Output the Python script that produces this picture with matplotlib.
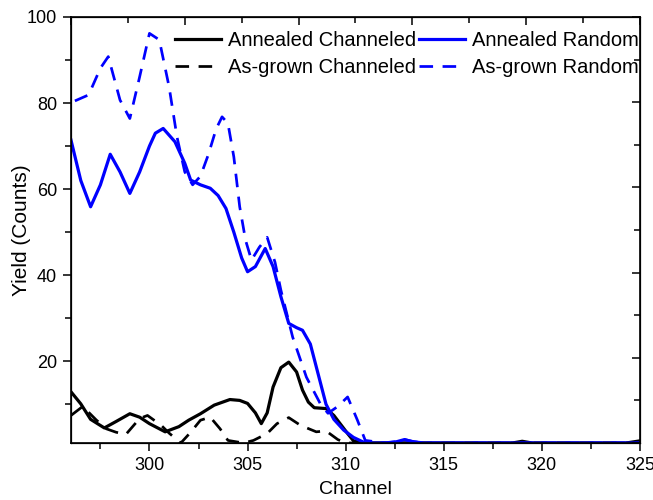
import numpy as np
import matplotlib
matplotlib.use("Agg")
import matplotlib.pyplot as plt
from matplotlib.ticker import MultipleLocator

plt.rcParams['font.family'] = ['Liberation Sans', 'DejaVu Sans']

# Annealed random (blue solid)
ar_x = [296.0, 296.5, 297.0, 297.5, 298.0, 298.5, 299.0, 299.5, 300.0, 300.3, 300.7, 301.3,
        301.8, 302.1, 302.6, 303.1, 303.5, 303.9, 304.3, 304.7, 305.0, 305.4, 305.9, 306.3,
        306.7, 307.1, 307.5, 307.8, 308.2, 308.6, 309.0, 309.4, 309.9, 310.4, 311.0, 312.0,
        312.6, 313.0, 313.4, 314.0, 325.0]
ar_y = [71.4, 62.0, 55.9, 61.0, 68.1, 64.0, 59.0, 64.0, 70.0, 73.0, 74.1, 71.0,
        66.0, 62.1, 61.0, 60.2, 58.5, 55.5, 50.0, 44.0, 40.8, 42.0, 46.2, 42.0,
        35.0, 28.8, 27.8, 27.2, 24.0, 17.0, 10.0, 6.5, 4.0, 2.3, 1.0, 1.0,
        1.3, 1.8, 1.3, 1.0, 1.0]

# As-grown random (blue dashed)
gr_x = [296.2, 296.9, 297.5, 297.9, 298.5, 299.0, 299.5, 300.0, 300.5, 301.0, 301.4, 301.8,
        302.2, 302.6, 303.0, 303.4, 303.7, 304.0, 304.3, 304.6, 304.9, 305.2, 305.6, 306.0,
        306.4, 306.7, 307.3, 308.0, 308.7, 309.1, 309.6, 310.1, 310.6, 311.0, 312.0, 312.6,
        313.0, 313.5, 314.0, 325.0]
gr_y = [80.5, 81.9, 88.1, 90.8, 80.7, 76.4, 86.1, 96.2, 94.7, 83.8, 72.2, 64.0,
        61.0, 63.0, 68.0, 74.0, 76.8, 75.3, 67.5, 55.9, 48.1, 43.5, 46.5, 48.8,
        43.0, 36.5, 25.6, 16.3, 10.2, 7.9, 9.5, 11.7, 6.3, 1.6, 1.0, 1.3,
        1.8, 1.3, 1.0, 1.0]

# Annealed channeled (black solid)
ac_x = [296.0, 296.5, 297.0, 297.7, 298.3, 299.0, 299.5, 300.0, 300.8, 301.5, 302.0, 302.6,
        303.3, 304.1, 304.6, 305.0, 305.4, 305.7, 306.0, 306.3, 306.7, 307.1, 307.5, 307.8,
        308.1, 308.4, 309.0, 309.4, 309.8, 310.1, 310.4, 311.0, 318.5, 319.0, 319.5, 324.3,
        325.0]
ac_y = [12.9, 10.1, 6.5, 4.5, 6.0, 7.8, 7.0, 5.5, 3.6, 4.8, 6.3, 7.8,
        9.8, 11.1, 10.9, 10.2, 8.0, 5.5, 8.0, 14.0, 18.5, 19.8, 17.5, 13.3,
        10.5, 9.2, 9.0, 7.4, 5.0, 3.2, 1.5, 1.0, 1.0, 1.4, 1.0, 1.0,
        1.5]

# As-grown channeled (black dashed)
gc_x = [296.0, 296.6, 297.3, 297.8, 298.3, 298.8, 299.5, 299.9, 300.6, 301.0, 301.6, 302.1,
        302.6, 303.1, 303.6, 304.0, 304.8, 305.3, 306.0, 306.5, 307.1, 307.7, 308.5, 309.0,
        309.6, 310.0, 325.0]
gc_y = [7.4, 9.5, 6.3, 4.3, 3.5, 3.0, 6.7, 7.4, 5.1, 3.3, 1.0, 3.5,
        6.3, 7.0, 4.3, 1.6, 1.0, 1.6, 3.2, 5.5, 6.9, 5.1, 3.6, 3.8,
        1.8, 1.0, 1.0]

labels = ['Annealed Channeled', 'As-grown Channeled', 'Annealed Random', 'As-grown Random']

fig = plt.figure(figsize=(6.53, 5.0), dpi=100)
ax = fig.add_axes([0.1087, 0.114, 0.8713, 0.852])

lw = 2.3
dash = (5, 3.5)
l1, = ax.plot(ac_x, ac_y, color='black', lw=lw, solid_joinstyle='round')
l2, = ax.plot(gc_x, gc_y, color='black', lw=lw * 0.85, ls=(0, dash))
l3, = ax.plot(ar_x, ar_y, color='blue', lw=lw, solid_joinstyle='round')
l4, = ax.plot(gr_x, gr_y, color='blue', lw=lw * 0.85, ls=(0, dash))

ax.set_xlim(296, 325)
ax.set_ylim(1, 100)
ax.xaxis.set_major_locator(MultipleLocator(5))
ax.xaxis.set_minor_locator(MultipleLocator(2.5))
ax.set_yticks([20, 40, 60, 80, 100])
ax.yaxis.set_minor_locator(MultipleLocator(10))
ax.tick_params(which='major', direction='out', length=6, width=1.1, labelsize=13, pad=4)
ax.tick_params(which='minor', direction='out', length=4, width=1.1)
ax.tick_params(top=False, right=False, which='both')
for s in ax.spines.values():
    s.set_linewidth(1.2)

ax.set_xlabel('Channel', fontsize=14, labelpad=5)
ax.set_ylabel('Yield (Counts)', fontsize=15)
ax.yaxis.set_label_coords(-0.07, 0.5)

# top and right ticks on their own scale
axt = ax.twiny()
axt.set_xlim(0, 1)
axt.xaxis.set_major_locator(MultipleLocator(0.2))
axt.xaxis.set_minor_locator(MultipleLocator(0.1))
axt.tick_params(which='major', direction='in', length=6, width=1.1, labeltop=False)
axt.tick_params(which='minor', direction='in', length=4, width=1.1)

axr = ax.twinx()
axr.set_ylim(0, 1)
axr.yaxis.set_major_locator(MultipleLocator(0.2))
axr.yaxis.set_minor_locator(MultipleLocator(0.1))
axr.tick_params(which='major', direction='in', length=6, width=1.1, labelright=False)
axr.tick_params(which='minor', direction='in', length=4, width=1.1)

leg = axr.legend([l1, l2, l3, l4], labels,
                 ncol=2, loc='upper left', bbox_to_anchor=(0.182, 0.968), frameon=False,
                 fontsize=14.5, handlelength=2.3, handletextpad=0.35, columnspacing=0.15,
                 borderpad=0, borderaxespad=0, labelspacing=0.4)

fig.savefig('out.png', dpi=100)
